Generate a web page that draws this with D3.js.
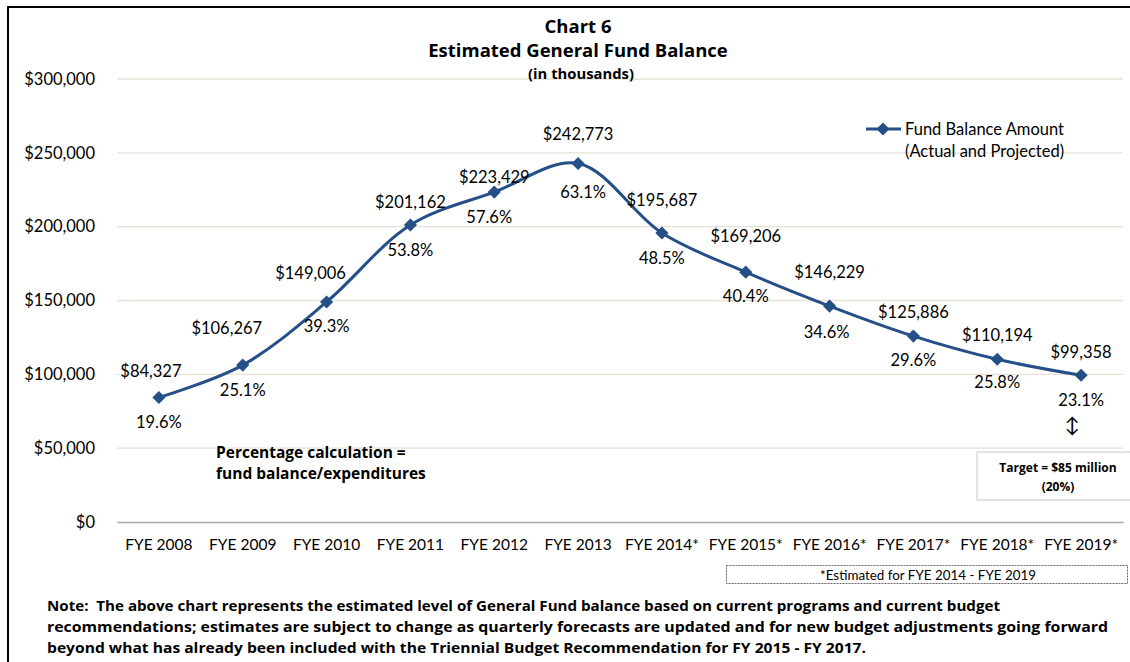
<!DOCTYPE html>
<html>
<head>
<meta charset="utf-8">
<script src="https://cdn.jsdelivr.net/npm/d3@7"></script>
<style>
  body { margin: 0; background: #fff; }
  text { font-family: Lato, sans-serif; fill: #000; white-space: pre; }
  text.b { font-family: "Open Sans", sans-serif; font-weight: bold; }
</style>
</head>
<body>
<script>
// chart data
var years = ["FYE 2008", "FYE 2009", "FYE 2010", "FYE 2011", "FYE 2012", "FYE 2013",
             "FYE 2014*", "FYE 2015*", "FYE 2016*", "FYE 2017*", "FYE 2018*", "FYE 2019*"];
var balance = [84327, 106267, 149006, 201162, 223429, 242773, 195687, 169206, 146229, 125886, 110194, 99358];
var percent = ["19.6%", "25.1%", "39.3%", "53.8%", "57.6%", "63.1%", "48.5%", "40.4%", "34.6%", "29.6%", "25.8%", "23.1%"];
var yTicks = [0, 50000, 100000, 150000, 200000, 250000, 300000];

// label nudges (layout only) [dx, dy] for value labels and percent labels
var valueNudge = [[-8, -26], [-16, -37], [-16, -29], [0, -23], [0, -15], [0, -29],
                  [0, -33], [0, -36], [0, -34], [0, -24], [0, -24], [0, -23]];
var pctNudge = [[0, 25], [0, 25], [0, 24], [0, 25], [-5, 25], [5, 29],
                [0, 25], [0, 24], [-3, 26], [0, 24], [0, 23], [0, 25]];

var W = 1130, H = 662;
var margin = {left: 117, right: 7, top: 79, bottom: 140};
var lineColor = "#244f87";

var svg = d3.select("body").append("svg")
  .attr("width", W)
  .attr("height", H);

// outer border
svg.append("rect")
  .attr("x", 8).attr("y", 7)
  .attr("width", W + 20).attr("height", H + 20)
  .attr("fill", "none")
  .attr("stroke", "#000")
  .attr("stroke-width", 2);

var x = d3.scaleBand()
  .domain(years)
  .range([margin.left, W - margin.right]);

var y = d3.scaleLinear()
  .domain([0, 300000])
  .range([H - margin.bottom, margin.top]);

// gridlines
svg.append("g")
  .selectAll("line")
  .data(yTicks.slice(1))
  .enter()
  .append("line")
  .attr("x1", margin.left)
  .attr("x2", W - margin.right)
  .attr("y1", d => y(d))
  .attr("y2", d => y(d))
  .attr("stroke", "#e6e2d6")
  .attr("stroke-width", 1.3);

// y axis
var yAxis = d3.axisLeft(y)
  .tickValues(yTicks)
  .tickSize(0)
  .tickPadding(22)
  .tickFormat(d => "$" + d3.format(",")(d));

var yG = svg.append("g")
  .attr("transform", "translate(" + margin.left + ",0)")
  .call(yAxis);
yG.select(".domain").remove();
yG.selectAll("text")
  .attr("font-size", "16.5px")
  .attr("font-family", "Lato, sans-serif");

// x axis
var xAxis = d3.axisBottom(x).tickSize(0).tickPadding(17);
var xG = svg.append("g")
  .attr("transform", "translate(0," + y(0) + ")")
  .call(xAxis);
xG.select(".domain")
  .attr("stroke", "#a6a6a6")
  .attr("stroke-width", 1.3);
xG.selectAll("text")
  .attr("font-size", "15.5px")
  .attr("font-family", "Lato, sans-serif");

// line
var cx = (d, i) => x(years[i]) + x.bandwidth() / 2;
var line = d3.line()
  .x(cx)
  .y(d => y(d))
  .curve(d3.curveCatmullRom.alpha(0.5));

svg.append("path")
  .datum(balance)
  .attr("d", line)
  .attr("fill", "none")
  .attr("stroke", lineColor)
  .attr("stroke-width", 3);

// markers
var diamond = d3.symbol().type(d3.symbolDiamond2).size(110);
svg.selectAll(".marker")
  .data(balance)
  .enter()
  .append("path")
  .attr("class", "marker")
  .attr("d", diamond)
  .attr("transform", (d, i) => "translate(" + cx(d, i) + "," + y(d) + ")")
  .attr("fill", lineColor);

// value labels
svg.selectAll(".vlabel")
  .data(balance)
  .enter()
  .append("text")
  .attr("class", "vlabel")
  .attr("x", (d, i) => cx(d, i) + valueNudge[i][0])
  .attr("y", (d, i) => y(d) + valueNudge[i][1])
  .attr("dy", "0.35em")
  .attr("text-anchor", "middle")
  .attr("font-size", "16.5px")
  .text(d => "$" + d3.format(",")(d));

// percent labels
svg.selectAll(".plabel")
  .data(balance)
  .enter()
  .append("text")
  .attr("class", "plabel")
  .attr("x", (d, i) => cx(d, i) + pctNudge[i][0])
  .attr("y", (d, i) => y(d) + pctNudge[i][1])
  .attr("dy", "0.35em")
  .attr("text-anchor", "middle")
  .attr("font-size", "16.5px")
  .text((d, i) => percent[i]);

// title
svg.append("text").attr("class", "b").attr("x", 578).attr("y", 33)
  .attr("text-anchor", "middle").attr("font-size", "18.5px")
  .text("Chart 6");
svg.append("text").attr("class", "b").attr("x", 578).attr("y", 57)
  .attr("text-anchor", "middle").attr("font-size", "18.5px")
  .text("Estimated General Fund Balance");
svg.append("text").attr("class", "b").attr("x", 581).attr("y", 79)
  .attr("text-anchor", "middle").attr("font-size", "14.8px")
  .text("(in thousands)");

// legend
var lg = svg.append("g").attr("transform", "translate(866,129)");
lg.append("line").attr("x1", 0).attr("x2", 35).attr("y1", 0).attr("y2", 0)
  .attr("stroke", lineColor).attr("stroke-width", 3);
lg.append("path").attr("d", diamond).attr("transform", "translate(17,0)").attr("fill", lineColor);
lg.append("text").attr("x", 39).attr("y", 0).attr("dy", "0.35em")
  .attr("font-size", "16.5px").text("Fund Balance Amount");
lg.append("text").attr("x", 39).attr("y", 22).attr("dy", "0.35em")
  .attr("font-size", "16.5px").text("(Actual and Projected)");

// percentage note
svg.append("text").attr("class", "b").attr("x", 216).attr("y", 458)
  .attr("font-size", "15.5px")
  .text("Percentage calculation =");
svg.append("text").attr("class", "b").attr("x", 216).attr("y", 479)
  .attr("font-size", "15.5px")
  .text("fund balance/expenditures");

// target arrow and box
svg.append("text").attr("x", 1072).attr("y", 425).attr("dy", "0.35em")
  .attr("text-anchor", "middle").attr("font-size", "20px")
  .text("\u2195");
svg.append("rect").attr("x", 977).attr("y", 452).attr("width", 170).attr("height", 48)
  .attr("fill", "#fff").attr("stroke", "#c8c8c8").attr("stroke-width", 1);
svg.append("text").attr("class", "b").attr("x", 1058).attr("y", 472)
  .attr("text-anchor", "middle").attr("font-size", "12px")
  .text("Target = $85 million");
svg.append("text").attr("class", "b").attr("x", 1058).attr("y", 491)
  .attr("text-anchor", "middle").attr("font-size", "12px")
  .text("(20%)");

// estimated note box
svg.append("rect").attr("x", 726.5).attr("y", 565.5).attr("width", 401).attr("height", 18)
  .attr("fill", "none").attr("stroke", "#666").attr("stroke-dasharray", "2,1");
svg.append("text").attr("x", 928).attr("y", 575).attr("dy", "0.35em")
  .attr("text-anchor", "middle").attr("font-size", "13.4px")
  .text("*Estimated for FYE 2014 - FYE 2019");

// footnote
var notes = [
  "Note:  The above chart represents the estimated level of General Fund balance based on current programs and current budget",
  "recommendations; estimates are subject to change as quarterly forecasts are updated and for new budget adjustments going forward",
  "beyond what has already been included with the Triennial Budget Recommendation for FY 2015 - FY 2017."
];
var noteWidths = [953, 1061, 819];
svg.selectAll(".note")
  .data(notes)
  .enter()
  .append("text")
  .attr("class", "note b")
  .attr("x", 47)
  .attr("y", (d, i) => 611 + i * 21)
  .attr("font-size", "13.5px")
  .attr("textLength", (d, i) => noteWidths[i])
  .attr("lengthAdjust", "spacingAndGlyphs")
  .text(d => d);
</script>
</body>
</html>
